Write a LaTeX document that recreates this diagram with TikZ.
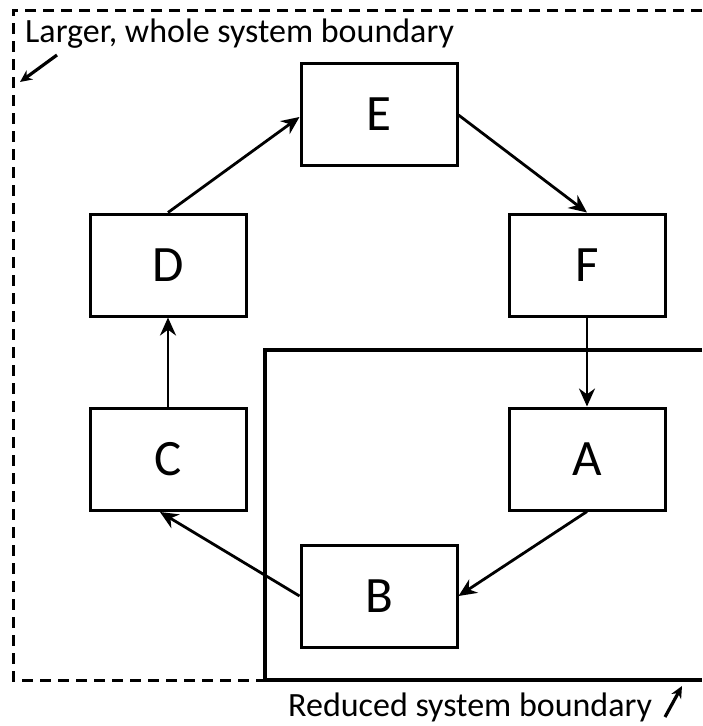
\documentclass[tikz,border=0pt]{standalone}
\usepackage{fontspec}
\setmainfont{Carlito}
\usetikzlibrary{arrows.meta}

\tikzstyle{rect} = [rectangle, minimum width=156pt, minimum height=102pt, text centered, draw=black, line width=3pt, font=\fontsize{51}{60}\selectfont]
\tikzstyle{arrow} = [line width=2.8pt,->,>={Stealth[length=18pt,width=16pt]}]
\tikzstyle{label} = [font=\fontsize{34}{40}\selectfont, inner sep=0pt]

\begin{document}
\begin{tikzpicture}[x=1pt, y=-1pt, node distance=194pt]
\useasboundingbox (0,0) rectangle (702,726);

% boundaries
\draw[line width=3pt, dash pattern=on 11pt off 7pt] (702,10) -- (13,10) -- (13,680) -- (265,680);
\draw[line width=4.2pt] (702,350) -- (265,350) -- (265,680) -- (702,680);

\node (D) [rect] at (168,265) {D};
\node (F) [rect, right of=D, xshift=225pt] {F};
\node (C) [rect, below of=D] {C};
\node (A) [rect, below of=F] {A};
\node (E) [rect] at (379,114) {E};
\node (B) [rect] at (379,596) {B};

\node (labellarger) [label, anchor=base west] at (25,42) {Larger, whole system boundary};
\node (labelreduced) [label, anchor=base west] at (288,716) {Reduced system boundary};

\coordinate (largertail) at (57,55);
\coordinate (largertip) at (20,82);
\coordinate (reducedtail) at (665,717);
\coordinate (reducedtip) at (682,686);

\draw[arrow] (D.north) -- (E.west |- 0,117);
\draw[arrow] (E.east |- 0,115) -- (F.north);
\draw[arrow] (F.south) -- (A.north);
\draw[arrow] (A.south) -- (B.east);
\draw[arrow] (B.west) -- (160,512);
\draw[arrow] (C.north) -- (D.south);

\draw[arrow, line width=3.2pt, >={Stealth[length=12pt,width=11pt]}] (largertail) -- (largertip);
\draw[arrow, line width=3.2pt, >={Stealth[length=12pt,width=11pt]}] (reducedtail) -- (reducedtip);

\end{tikzpicture}
\end{document}
